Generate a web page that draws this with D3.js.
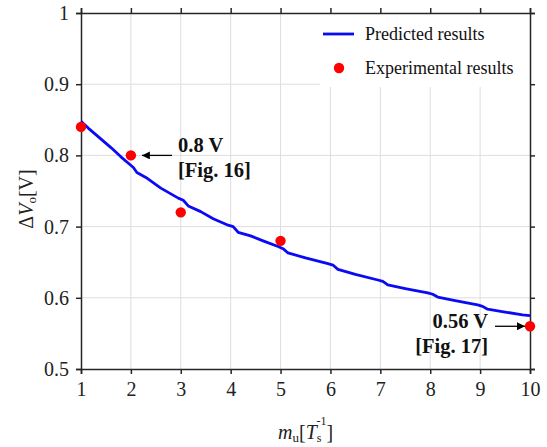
<!DOCTYPE html>
<html>
<head>
<meta charset="utf-8">
<script src="https://cdn.jsdelivr.net/npm/d3@7/dist/d3.min.js"></script>
<style>
  html, body { margin: 0; padding: 0; background: #fff; }
  svg { display: block; font-family: "Liberation Serif", "Times New Roman", serif; }
</style>
</head>
<body>
<svg id="chart" width="547" height="447"></svg>
<script>
// Predicted ripple curve (m_u in T_s^-1, ΔV_o in V)
const predX = [1, 1.15, 1.35, 1.6, 1.8, 1.95, 2.05, 2.12, 2.3, 2.6, 2.95, 3.05, 3.15, 3.4, 3.65, 3.95,
  4.05, 4.15, 4.4, 4.65, 4.95, 5.05, 5.15, 5.5, 5.95, 6.05, 6.15, 6.5, 6.95, 7.05, 7.15, 7.5, 7.95,
  8.05, 8.15, 8.5, 8.95, 9.05, 9.15, 9.5, 9.85, 10];
const predY = [0.848, 0.838, 0.826, 0.811, 0.798, 0.789, 0.783, 0.776, 0.769, 0.754, 0.740, 0.737, 0.729,
  0.721, 0.711, 0.702, 0.700, 0.692, 0.687, 0.680, 0.672, 0.669, 0.663, 0.656, 0.648, 0.646, 0.640,
  0.633, 0.625, 0.623, 0.618, 0.613, 0.607, 0.605, 0.601, 0.596, 0.590, 0.588, 0.584, 0.580, 0.576, 0.575];

// Measured ripple
const expX = [1, 2, 3, 5, 10];
const expY = [0.84, 0.80, 0.72, 0.68, 0.56];

const xTicks = [1, 2, 3, 4, 5, 6, 7, 8, 9, 10];
const yTicks = [0.5, 0.6, 0.7, 0.8, 0.9, 1];
const legendLabels = ["Predicted results", "Experimental results"];

const svg = d3.select("#chart");
const L = 81, R = 530, T = 13, B = 369;

const x = d3.scaleLinear().domain([1, 10]).range([L, R]);
const y = d3.scaleLinear().domain([0.5, 1]).range([B, T]);

const axisColor = "#262626";

// grid
const grid = svg.append("g").attr("stroke", "#dedede").attr("stroke-width", 1);
grid.selectAll("line.gx").data(xTicks.slice(1, -1)).enter().append("line")
  .attr("x1", d => x(d)).attr("x2", d => x(d)).attr("y1", T).attr("y2", B);
grid.selectAll("line.gy").data(yTicks.slice(1, -1)).enter().append("line")
  .attr("y1", d => y(d)).attr("y2", d => y(d)).attr("x1", L).attr("x2", R);

// legend background covers the grid
svg.append("rect").attr("x", 320).attr("y", T).attr("width", R - 320).attr("height", 74).attr("fill", "#fff");

// axes
function styleAxis(g, labels) {
  g.select(".domain").attr("stroke", axisColor).attr("stroke-width", 1.5);
  g.selectAll(".tick line").attr("stroke", axisColor).attr("stroke-width", 1.5);
  g.selectAll(".tick text").attr("fill", "#222").style("font-size", "20px")
    .style("font-family", "Liberation Serif");
  if (!labels) g.selectAll(".tick text").remove();
}
svg.append("g").attr("transform", `translate(0,${B})`)
  .call(d3.axisBottom(x).tickValues(xTicks).tickFormat(d3.format("d")).tickSizeOuter(0).tickSize(5).tickPadding(8))
  .call(g => styleAxis(g, true));
svg.append("g").attr("transform", `translate(0,${T})`)
  .call(d3.axisTop(x).tickValues(xTicks).tickSizeOuter(0).tickSize(5))
  .call(g => styleAxis(g, false));
svg.append("g").attr("transform", `translate(${L},0)`)
  .call(d3.axisLeft(y).tickValues(yTicks).tickFormat(d => d === 1 ? "1" : d3.format(".1f")(d)).tickSizeOuter(0).tickSize(5).tickPadding(7))
  .call(g => styleAxis(g, true));
svg.append("g").attr("transform", `translate(${R},0)`)
  .call(d3.axisRight(y).tickValues(yTicks).tickSizeOuter(0).tickSize(5))
  .call(g => styleAxis(g, false));

// predicted curve
const line = d3.line().x((d, i) => x(predX[i])).y(d => y(d));
svg.append("path").datum(predY).attr("d", line)
  .attr("fill", "none").attr("stroke", "#0a0af5").attr("stroke-width", 2.8)
  .attr("stroke-linejoin", "round");

// experimental points
svg.selectAll("circle.exp").data(expY).enter().append("circle")
  .attr("cx", (d, i) => x(expX[i])).attr("cy", d => y(d)).attr("r", 5.2).attr("fill", "#ff0000");

// legend
const lg = svg.append("g").style("font-size", "18px").attr("fill", "#111");
lg.append("line").attr("x1", 323).attr("x2", 354).attr("y1", 34).attr("y2", 34)
  .attr("stroke", "#0a0af5").attr("stroke-width", 2.8);
lg.append("text").attr("x", 365).attr("y", 40).text(legendLabels[0]);
lg.append("circle").attr("cx", 339).attr("cy", 68).attr("r", 5.2).attr("fill", "#ff0000");
lg.append("text").attr("x", 365).attr("y", 74).text(legendLabels[1]);

// annotations
svg.append("defs").append("marker").attr("id", "ah").attr("viewBox", "0 0 10 10")
  .attr("refX", 10).attr("refY", 5).attr("markerWidth", 10).attr("markerHeight", 8)
  .attr("markerUnits", "userSpaceOnUse").attr("orient", "auto")
  .append("path").attr("d", "M0,0 L10,5 L0,10 Z").attr("fill", "#000");

const ann = svg.append("g").style("font-size", "20.5px").style("font-weight", "bold").attr("fill", "#111");
// 0.8 V at m_u = 2
ann.append("line").attr("x1", 172).attr("x2", x(2) + 11).attr("y1", y(0.8)).attr("y2", y(0.8))
  .attr("stroke", "#000").attr("stroke-width", 1.3).attr("marker-end", "url(#ah)");
ann.append("text").attr("x", 178).attr("y", 152).text("0.8 V");
ann.append("text").attr("x", 178).attr("y", 177).text("[Fig. 16]");
// 0.56 V at m_u = 10
ann.append("line").attr("x1", 495).attr("x2", x(10) - 5).attr("y1", y(0.56)).attr("y2", y(0.56))
  .attr("stroke", "#000").attr("stroke-width", 1.3).attr("marker-end", "url(#ah)");
ann.append("text").attr("x", 488).attr("y", 328).attr("text-anchor", "end").text("0.56 V");
ann.append("text").attr("x", 488).attr("y", 353).attr("text-anchor", "end").text("[Fig. 17]");

// axis titles
const yl = svg.append("text").attr("transform", "translate(33,199) rotate(-90)")
  .attr("text-anchor", "middle").style("font-size", "20px").attr("fill", "#222");
yl.append("tspan").text("Δ");
yl.append("tspan").style("font-style", "italic").text("V");
yl.append("tspan").style("font-size", "13px").attr("dy", 3).text("o");
yl.append("tspan").attr("dy", -3).text("[V]");

const xl = svg.append("text").attr("x", 278).attr("y", 439).style("font-size", "20px").attr("fill", "#222");
xl.append("tspan").style("font-style", "italic").text("m");
xl.append("tspan").style("font-size", "13px").attr("dy", 3).text("u");
xl.append("tspan").attr("dy", -3).text("[");
xl.append("tspan").style("font-style", "italic").text("T");
xl.append("tspan").style("font-size", "12px").attr("dy", 3).text("s");
xl.append("tspan").style("font-size", "12px").attr("dx", -5).attr("dy", -17).text("-1");
xl.append("tspan").attr("dy", 14).text("]");
</script>
</body>
</html>
